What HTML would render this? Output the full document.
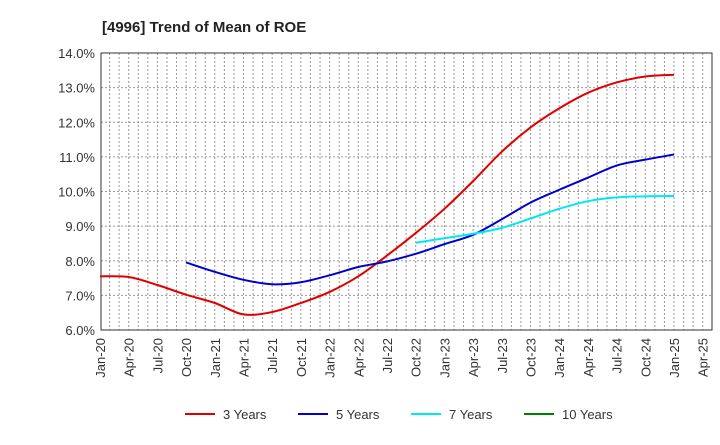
<!DOCTYPE html>
<html><head><meta charset="utf-8"><style>
body{margin:0;background:#fff;font-family:"Liberation Sans",sans-serif;}
svg text{font-family:"Liberation Sans",sans-serif;}
</style></head><body>
<svg id="chart" width="720" height="440">
<text x="102" y="32" font-size="15" font-weight="bold" fill="#222">[4996]  Trend of Mean of ROE</text>
<g id="grid"></g><g id="axes"></g><g id="series"></g><g id="legend"></g>
</svg>
<script>
const xLabels=["Jan-20","Apr-20","Jul-20","Oct-20","Jan-21","Apr-21","Jul-21","Oct-21","Jan-22","Apr-22","Jul-22","Oct-22","Jan-23","Apr-23","Jul-23","Oct-23","Jan-24","Apr-24","Jul-24","Oct-24","Jan-25","Apr-25"];
const yTicks=[6,7,8,9,10,11,12,13,14];
const s3Start=0;
const s3=[7.55,7.53,7.3,7.02,6.78,6.45,6.52,6.78,7.1,7.55,8.15,8.8,9.5,10.3,11.15,11.85,12.4,12.85,13.15,13.32,13.37];
const s5Start=3;
const s5=[7.95,7.68,7.45,7.32,7.38,7.58,7.82,7.98,8.2,8.48,8.75,9.2,9.68,10.05,10.4,10.75,10.92,11.07];
const s7Start=11;
const s7=[8.52,8.65,8.78,8.95,9.22,9.5,9.72,9.83,9.86,9.87];
const s10Start=0;
const s10=[];
const L=101,R=712,T=53,B=330,X0=100,QW=28.7;
const X=q=>X0+QW*q;
const Y=v=>B-(B-T)*(v-6)/8;
const ns="http://www.w3.org/2000/svg";
function mk(t,p,a){const e=document.createElementNS(ns,t);for(const k in a)e.setAttribute(k,a[k]);p.appendChild(e);return e;}
const grid=document.getElementById('grid'),axes=document.getElementById('axes'),ser=document.getElementById('series'),leg=document.getElementById('legend');
for(let m=1;X(m/3)<R-2;m++){const x=X(m/3);
const l=mk('line',grid,{x1:x,x2:x,y1:T,y2:B,stroke:'#999','stroke-dasharray':'2,2','stroke-width':1});
}
yTicks.forEach(v=>{const y=Y(v);
const l=mk('line',grid,{x1:L,x2:R,y1:y,y2:y,stroke:'#999','stroke-dasharray':'2,2','stroke-width':1});

const t=mk('text',axes,{x:L-6,y:y+5,'text-anchor':'end','font-size':13,fill:'#333'});t.textContent=v.toFixed(1)+'%';
});
xLabels.forEach((s,i)=>{const x=X(i);
const t=mk('text',axes,{x:0,y:0,transform:`translate(${x+5},${B+8}) rotate(-90)`,'text-anchor':'end','font-size':13,fill:'#333'});t.textContent=s;
});
const fr=mk('rect',axes,{x:L,y:T,width:R-L,height:B-T,fill:'none',stroke:'#333','stroke-width':1});

function path(vals,start){if(vals.length<2)return'';const p=vals.map((v,i)=>[X(start+i),Y(v)]);let d=`M${p[0][0]},${p[0][1]}`;
for(let i=0;i<p.length-1;i++){const p0=p[i-1]||p[i],p1=p[i],p2=p[i+1],p3=p[i+2]||p2;
d+=`C${p1[0]+(p2[0]-p0[0])/6},${p1[1]+(p2[1]-p0[1])/6} ${p2[0]-(p3[0]-p1[0])/6},${p2[1]-(p3[1]-p1[1])/6} ${p2[0]},${p2[1]}`;}return d;}
const series=[[s3,s3Start,'#e00000','3 Years','line-3-years'],[s5,s5Start,'#0000d0','5 Years','line-5-years'],[s7,s7Start,'#00e8f0','7 Years','line-7-years'],[s10,s10Start,'#008000','10 Years','line-10-years']];
series.forEach(([v,st,c,n,id],i)=>{
const p=mk('path',ser,{d:path(v,st),fill:'none',stroke:c,'stroke-width':2});

const lx=185+i*113;
const g=mk('g',leg,{});

mk('line',g,{x1:lx,x2:lx+30,y1:414,y2:414,stroke:c,'stroke-width':2});
const t=mk('text',g,{x:lx+38,y:419,'font-size':13,fill:'#333'});t.textContent=n;});
</script>
</body></html>
